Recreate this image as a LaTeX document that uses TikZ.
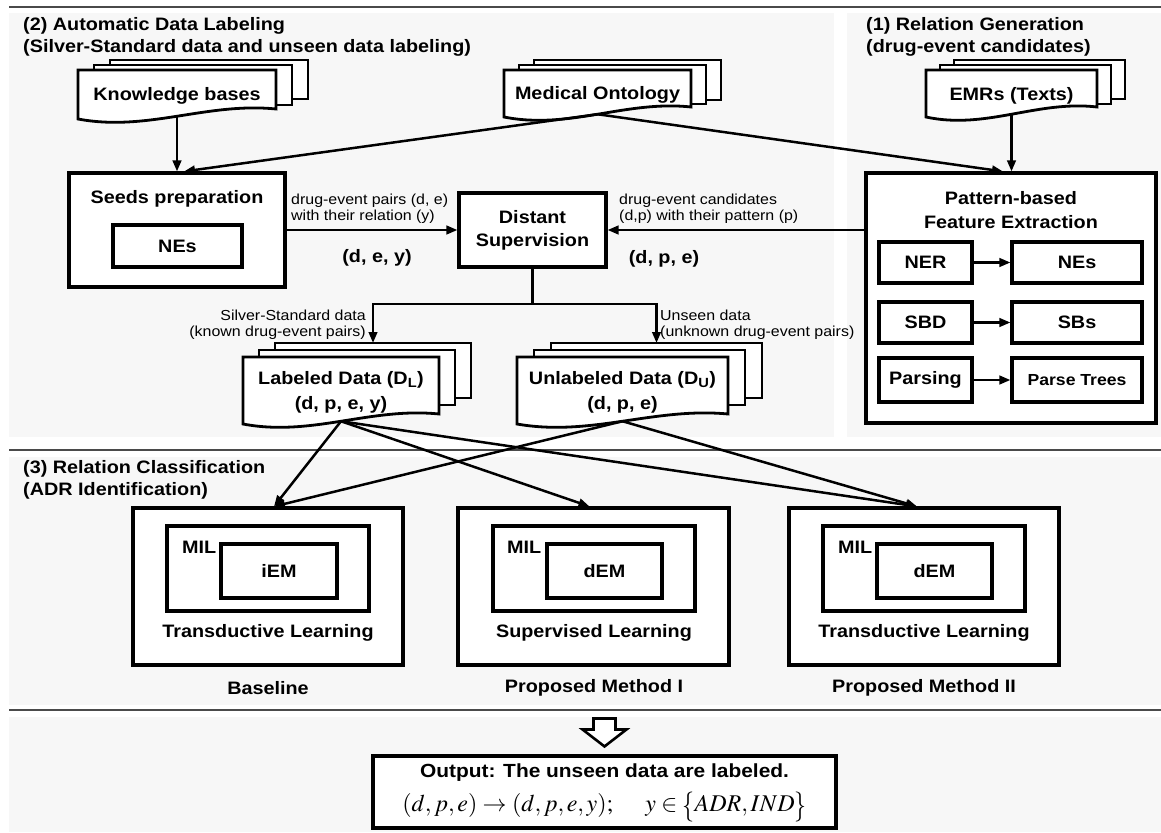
\documentclass[tikz,border=0pt]{standalone}
\usepackage{mathptmx}
\usepackage{fontspec}
\setmainfont{Liberation Sans}[FakeStretch=1.1]
\usetikzlibrary{arrows.meta,calc}
\definecolor{panelgray}{HTML}{F7F7F7}
\definecolor{sepgray}{HTML}{4A4A4A}

% rectangle node from corner coordinates: [style]{name}{x0}{y0}{x1}{y1}
\newcommand{\rectnode}[6][]{%
  \node[box,#1,minimum width={(#5-#3)*1pt},minimum height={(#6-#4)*1pt}]
    (#2) at ({(#3+#5)/2},{(#4+#6)/2}) {};}

% stack of three documents: {name}{x0}{top}{x1}{bottom-left y}{dx}{dy}{back bottom}{middle bottom}
\newcommand{\docstack}[9]{%
  \draw[doc] ({#2+2*#6},{#3-2*#7}) rectangle ({#4+2*#6},#8);
  \draw[doc] ({#2+#6},{#3-#7}) rectangle ({#4+#6},#9);
  \draw[doc] (#2,#3) -- (#4,#3) -- (#4,{#5-10})
     .. controls ({#4-0.35*(#4-#2)},{#5-17}) and ({#2+0.35*(#4-#2)},{#5+13}) ..
     (#2,#5) coordinate[pos=0.5] (#1-b) -- cycle;
  \coordinate (#1-t) at ({(#2+#4)/2+2*#6},{#3-2*#7});}

% taller set braces for the output formula
\newcommand{\tallbrace}[1]{\raisebox{-0.12em}{\scalebox{1}[1.25]{$#1$}}}

\begin{document}
\begin{tikzpicture}[x=1pt,y=-1pt,
  box/.style={draw,line width=3.1pt,fill=white,inner sep=0pt},
  doc/.style={draw,line width=2.8pt,fill=white},
  ln/.style={line width=2.5pt},
  arr/.style={line width=2.5pt,-{Triangle[length=11pt,width=8.5pt]}},
  bigtxt/.style={font=\fontsize{18}{22}\selectfont\bfseries,inner sep=0pt,align=center},
  lbl/.style={font=\fontsize{14.5}{16}\selectfont,inner sep=0pt},
  sepline/.style={draw=sepgray,line width=2pt},
]
\useasboundingbox (0,0) rectangle (1161,832);
\fill[white] (0,0) rectangle (1161,832);

% section backgrounds and separators
\fill[panelgray] (9,13) rectangle (834,437);
\fill[panelgray] (847,13) rectangle (1161,437);
\fill[panelgray] (9,457) rectangle (1161,705);
\fill[panelgray] (9,717) rectangle (1161,832);
\draw[sepline] (9,7) -- (1161,7);
\draw[sepline] (9,450) -- (1161,450);
\draw[sepline] (9,710) -- (1161,710);

% section titles
\node[bigtxt,align=left,anchor=west] (title2) at (23,37)
  {(2) Automatic Data Labeling\\(Silver-Standard data and unseen data labeling)};
\node[bigtxt,align=left,anchor=west] (title1) at (866,37)
  {(1) Relation Generation\\(drug-event candidates)};
\node[bigtxt,align=left,anchor=west] (title3) at (23,480)
  {(3) Relation Classification\\(ADR Identification)};

% source documents
\docstack{kb}{78}{70}{276}{119}{16}{5}{99}{105}
\node[bigtxt] (kb-txt) at (177,96) {Knowledge bases};
\docstack{mo}{504}{70}{691}{117}{15}{5}{100}{104}
\node[bigtxt] (mo-txt) at (597.5,95) {Medical Ontology};
\docstack{emr}{926}{70}{1097}{117}{14}{5}{99}{104}
\node[bigtxt] (emr-txt) at (1011.5,96) {EMRs (Texts)};

% seeds preparation
\rectnode{seeds}{69}{173}{285}{287}
\node[bigtxt] (seeds-txt) at (177,199) {Seeds preparation};
\rectnode{nes1}{113}{225}{242}{267}
\node[bigtxt] (nes1-txt) at (nes1) {NEs};

% distant supervision
\rectnode{ds}{459}{193}{606}{267}
\node[bigtxt,font=\fontsize{18}{23}\selectfont\bfseries] (ds-txt) at (ds) {Distant\\Supervision};

% pattern-based feature extraction
\rectnode{pat}{866}{173}{1156}{423}
\node[bigtxt,font=\fontsize{18}{24}\selectfont\bfseries] (pat-txt) at (1011,210) {Pattern-based\\Feature Extraction};
\rectnode{ner}{879}{242}{972}{283}
\rectnode{nes2}{1012}{242}{1142}{283}
\rectnode{sbd}{879}{302}{972}{343}
\rectnode{sbs}{1012}{302}{1142}{343}
\rectnode{prs}{879}{358}{972}{402}
\rectnode{ptr}{1012}{358}{1142}{402}
\node[bigtxt] (ner-txt) at (ner) {NER};
\node[bigtxt] (nes2-txt) at (nes2) {NEs};
\node[bigtxt] (sbd-txt) at (sbd) {SBD};
\node[bigtxt] (sbs-txt) at (sbs) {SBs};
\node[bigtxt] (prs-txt) at (prs) {Parsing};
\node[bigtxt,font=\fontsize{16}{20}\selectfont\bfseries] (ptr-txt) at (ptr) {Parse Trees};

% labeled and unlabeled data
\docstack{lab}{243}{357}{439}{424}{16}{7}{398}{405}
\node[bigtxt,font=\fontsize{18}{25}\selectfont\bfseries] (lab-txt) at (341,392) {Labeled Data (D\textsubscript{L})\\(d, p, e, y)};
\docstack{unl}{517}{357}{728}{424}{17}{7}{398}{405}
\node[bigtxt,font=\fontsize{18}{25}\selectfont\bfseries] (unl-txt) at (622.5,392) {Unlabeled Data (D\textsubscript{U})\\(d, p, e)};

% classifiers
\rectnode{bl}{133}{508}{403}{665}
\rectnode{bl-mil}{167}{526}{369}{611}
\rectnode{bl-em}{221}{544}{337}{598}
\rectnode{pm1}{458}{508}{729}{665}
\rectnode{pm1-mil}{493}{526}{695}{611}
\rectnode{pm1-em}{547}{544}{662}{598}
\rectnode{pm2}{789}{508}{1059}{665}
\rectnode{pm2-mil}{823}{526}{1025}{611}
\rectnode{pm2-em}{877}{544}{992}{598}
\node[bigtxt] (bl-em-txt) at (bl-em) {iEM};
\node[bigtxt] (pm1-em-txt) at (pm1-em) {dEM};
\node[bigtxt] (pm2-em-txt) at (pm2-em) {dEM};
\node[bigtxt,anchor=west] (bl-mil-txt) at (182,547) {MIL};
\node[bigtxt,anchor=west] (pm1-mil-txt) at (507,547) {MIL};
\node[bigtxt,anchor=west] (pm2-mil-txt) at (838,547) {MIL};
\node[bigtxt] (bl-lrn) at (268,633) {Transductive Learning};
\node[bigtxt] (pm1-lrn) at (594,633) {Supervised Learning};
\node[bigtxt] (pm2-lrn) at (924,633) {Transductive Learning};
\node[bigtxt] (bl-name) at (268,688) {Baseline};
\node[bigtxt] (pm1-name) at (594,688) {Proposed Method I};
\node[bigtxt] (pm2-name) at (924,688) {Proposed Method II};

% output
\rectnode{out}{373}{756}{836}{828}
\node[bigtxt,font=\fontsize{19}{22}\selectfont\bfseries] (out-t1) at (604.5,773) {Output: The unseen data are labeled.};
\node[inner sep=0pt,font=\fontsize{24}{28}\selectfont] (out-t2) at (604.5,807)
  {$(d,p,e)\rightarrow(d,p,e,y);\quad\; y\in\tallbrace{\{}ADR,IND\tallbrace{\}}$};
\coordinate (out-tip) at ([yshift=8pt]out.north);
\draw[line width=2.6pt,fill=white,line join=miter] (out-tip) -- ++(-22,-17) -- ++(11,0) -- ++(0,-11)
  -- ++(22,0) -- ++(0,11) -- ++(11,0) -- cycle;

% connectors of the labeling stage
\draw[arr] (kb-b) -- (kb-b |- seeds.north);
\draw[arr] (mo-b) -- ([xshift=7pt]seeds.north);
\draw[arr] (mo-b) -- ([xshift=-8pt]pat.north);
\draw[arr] (emr-b) -- (emr-b |- pat.north);
\draw[arr] (seeds.east) -- (ds.west);
\draw[arr] (pat.west |- ds.east) -- (ds.east);
\draw[arr] (ner) -- (nes2);
\draw[arr] (sbd) -- (sbs);
\draw[arr] (prs) -- (ptr);
\coordinate (split) at (532.5,304);
\draw[ln] (ds.south) -- (split);
\draw[arr] (split) -| (lab-t);
\draw[arr] (split) -| (unl-t);

\node[lbl,align=left,anchor=south west] (pairs-lbl) at (291,224) {drug-event pairs (d, e)\\with their relation (y)};
\node[lbl,align=left,anchor=south west] (cand-lbl) at (619,224) {drug-event candidates\\(d,p) with their pattern (p)};
\node[bigtxt] (dey) at (377,258) {(d, e, y)};
\node[bigtxt] (dpe) at (664,259) {(d, p, e)};
\node[lbl,align=right,anchor=east] (silver-lbl) at (366,325) {Silver-Standard data\\(known drug-event pairs)};
\node[lbl,align=left,anchor=west] (unseen-lbl) at (660,325) {Unseen data\\(unknown drug-event pairs)};

% connectors into the classifiers
\draw[arr] (lab-b) -- ([xshift=6pt]bl.north);
\draw[arr] (lab-b) -- ([xshift=-4pt]pm1.north);
\draw[arr] (lab-b) -- ([xshift=-7pt]pm2.north);
\draw[arr] (unl-b) -- ([xshift=6pt]bl.north);
\draw[arr] (unl-b) -- ([xshift=-7pt]pm2.north);
\end{tikzpicture}
\end{document}
